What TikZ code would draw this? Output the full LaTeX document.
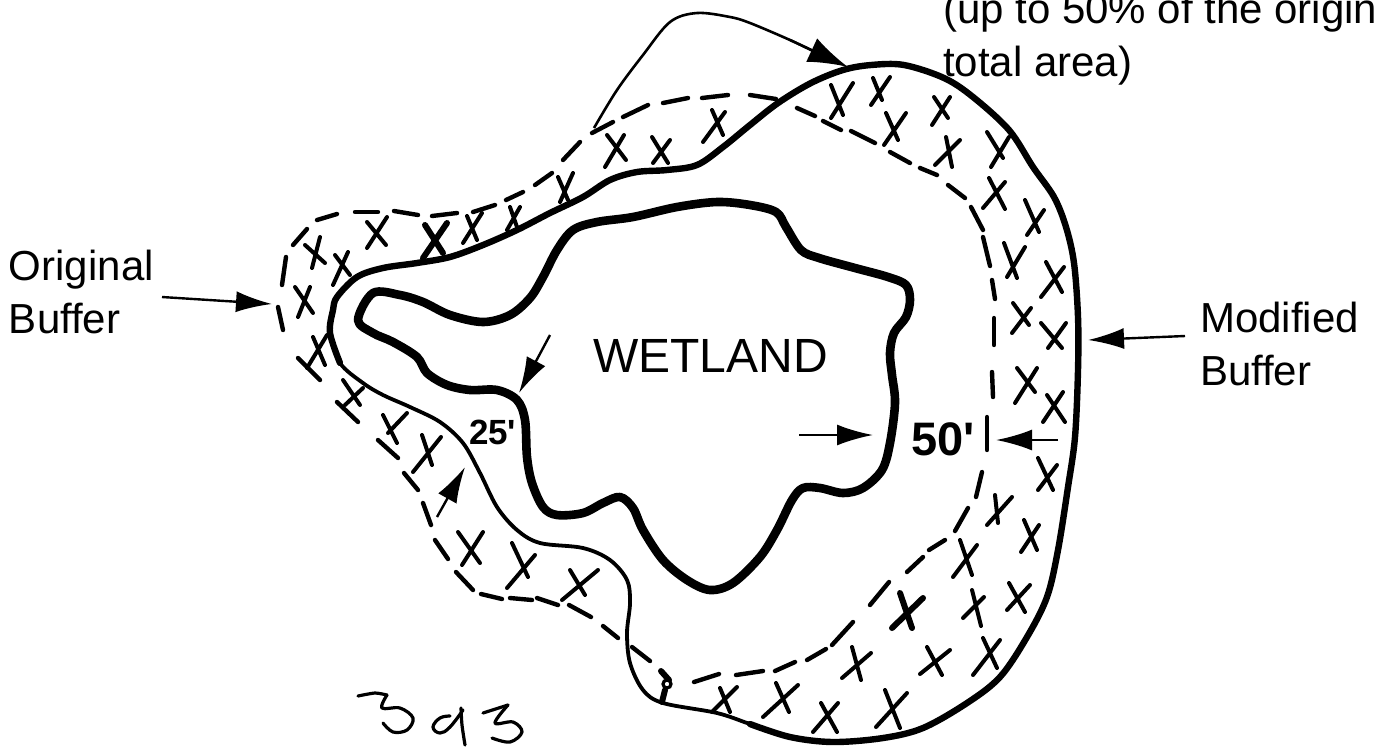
\documentclass[tikz,border=0pt]{standalone}
\usepackage{fontspec}
\setmainfont{Liberation Sans}[Ligatures=TeXOff]
\usetikzlibrary{arrows.meta}
\tikzset{
  wetlandline/.style={line width=4.3pt,line join=round},
  bufferthin/.style={line width=1.9pt,line join=round},
  bufferthick/.style={line width=3.2pt,line join=round,line cap=round},
  dashstroke/.style={line width=2.2pt,line cap=round},
  crossstroke/.style={line width=2pt,line cap=round},
  crossheavy/.style={line width=3pt,line cap=round},
  pointer/.style={line width=1.2pt,-{Latex[length=18pt,width=10.5pt]}},
  pointerbig/.style={line width=1.2pt,-{Latex[length=20pt,width=13pt]}},
  handwrite/.style={line width=1.6pt,line cap=round,line join=round},
  label/.style={anchor=base west,inner sep=0pt,outer sep=0pt,font=\fontsize{21}{21}\selectfont},
  wetlabel/.style={label,font=\fontsize{24}{24}\selectfont},
  boldsmall/.style={label,font=\fontsize{17.5}{17.5}\selectfont\bfseries},
  boldbig/.style={label,font=\fontsize{23.5}{23.5}\selectfont\bfseries},
}
\begin{document}
\begin{tikzpicture}[x=0.5pt,y=-0.5pt]
\useasboundingbox (0,0) rectangle (1385,746);
\fill[white] (0,0) rectangle (1385,746);

% wetland edge
\draw[wetlandline] plot[smooth cycle,tension=0.55] coordinates {
 (358,320) (373,293) (400,295) (423,302) (450,315) (483,322) (510,315) (530,298)
 (543,277) (557,250) (573,230) (597,222) (633,217) (677,207) (717,202) (750,205)
 (776,212) (786,227) (801,250) (819,258) (855,268) (888,277) (906,285) (910,300)
 (906,317) (894,333) (890,353) (892,375) (895,403) (890,443) (882,470) (863,488)
 (843,493) (820,488) (803,488) (792,500) (777,530) (760,557) (733,583) (710,590)
 (687,580) (663,560) (643,530) (633,508) (620,497) (603,503) (583,513) (557,515)
 (543,507) (532,483) (527,457) (525,420) (517,400) (497,390) (470,390) (447,385)
 (427,373) (417,357) (393,342) (373,333)};

% modified buffer, whole outline
\draw[bufferthin] plot[smooth cycle,tension=0.55] coordinates {
 (330,333) (333,310) (337,297) (357,277) (383,268) (417,263) (450,257) (483,245)
 (517,230) (550,213) (583,197) (610,180) (637,172) (667,170) (697,165) (723,147)
 (750,125) (778,103) (811,83) (843,70) (871,65) (904,65) (944,78) (973,97)
 (1009,130) (1033,167) (1054,197) (1066,227) (1074,263) (1078,317) (1078,370)
 (1075,437) (1068,487) (1058,550) (1047,597) (1027,637) (1000,677) (967,703)
 (923,728) (883,738) (833,742) (790,737) (750,724) (717,713) (663,703) (643,690)
 (630,663) (627,633) (630,603) (627,580) (610,560) (583,548) (540,543) (517,530)
 (497,507) (480,473) (463,443) (440,422) (410,407) (383,395) (363,383) (340,363)};
% modified buffer, heavier stretches
\draw[bufferthick] plot[smooth,tension=0.55] coordinates {
 (340,363) (330,333) (333,310) (337,297) (357,277) (383,268) (417,263) (450,257) (483,245)
 (517,230) (550,213) (583,197) (610,180) (637,172) (667,170) (697,165) (723,147)
 (750,125) (778,103) (811,83) (843,70) (871,65) (904,65) (944,78) (973,97)
 (1009,130) (1033,167) (1054,197) (1066,227) (1074,263) (1078,317) (1078,370)
 (1075,437) (1068,487) (1058,550) (1047,597) (1027,637) (1000,677) (967,703)
 (923,728) (883,738) (833,742) (790,737) (750,724)};

% original buffer, hand-drawn dashes
\foreach \a/\b/\c/\d in {
 283/330/278/307, 282/285/286/257, 293/245/307/229, 317/220/337/214, 355/212/378/212,
 394/211/418/215, 432/216/457/213, 473/212/495/205, 506/200/523/192, 535/185/552/173,
 563/160/580/142, 592/133/613/122, 623/117/648/105, 663/103/688/98, 702/98/728/95,
 750/95/776/99, 797/108/815/116, 823/121/841/130, 851/131/875/143, 890/152/910/163,
 920/168/937/175, 948/185/965/198, 971/207/983/230, 983/237/990/266, 992/280/995/299,
 994/318/994/345, 992/372/993/397, 987/417/987/450, 982/472/976/497, 968/508/955/531,
 945/540/929/550, 923/557/907/572, 889/582/870/605, 853/622/832/645, 826/649/807/660,
 795/662/775/671, 763/671/736/675, 719/674/694/682, 650/661/632/647, 618/638/603/626,
 591/617/569/605, 558/605/537/598, 532/600/510/598, 502/599/481/594, 473/590/456/572,
 448/559/435/540, 431/525/423/503, 418/490/404/473, 398/458/378/440, 358/422/337/402,
 320/380/298/358}
 \draw[dashstroke] (\a,\b) -- (\c,\d);

% crosses of the taken area
\foreach \a/\b/\c/\d/\e/\f/\g/\h in {
 305/245/325/263/320/237/312/268, 335/255/350/275/348/252/333/285,
 367/222/386/245/387/217/367/248, 295/287/313/313/310/287/298/317,
 467/216/477/240/482/213/463/243, 510/207/517/227/520/207/507/230,
 558/177/568/200/573/173/560/202, 607/135/626/160/624/135/605/167,
 652/137/668/163/670/140/653/163, 712/110/723/135/725/112/703/142,
 313/337/325/365/327/335/307/368, 343/380/360/405/363/388/345/405,
 383/415/397/443/407/413/388/433, 422/435/432/465/441/437/413/472,
 458/532/480/563/483/532/462/565, 512/543/528/577/535/555/507/588,
 570/570/585/595/598/570/562/600, 720/688/730/712/737/687/712/712,
 831/85/843/115/853/83/831/118, 873/78/882/100/890/77/871/105,
 886/113/898/140/906/113/884/145, 934/97/948/118/950/97/932/125,
 946/137/952/167/960/140/935/165, 987/132/1003/158/1009/137/991/167,
 989/178/1005/209/1005/182/983/208, 1025/200/1039/232/1044/210/1027/235,
 1004/243/1017/278/1025/247/1007/277, 1046/262/1062/292/1064/267/1041/297,
 1013/303/1029/325/1031/308/1012/333, 1041/323/1062/348/1066/323/1048/348,
 1017/368/1035/392/1037/368/1015/403, 1047/395/1065/422/1063/392/1043/422,
 1038/458/1053/490/1057/465/1038/490, 995/495/998/523/1012/497/987/525,
 1024/520/1037/550/1039/525/1021/552, 960/540/972/575/977/545/953/577,
 972/590/981/626/984/597/963/618, 1009/583/1025/612/1030/585/1007/610,
 983/638/997/668/1000/640/973/675, 927/647/942/675/950/650/920/674,
 852/647/861/680/871/653/842/678, 776/683/789/712/798/685/763/717,
 821/703/837/732/838/703/813/732, 885/690/900/728/907/693/876/727}
 \draw[crossstroke] (\a,\b) -- (\c,\d) (\e,\f) -- (\g,\h);
\draw[crossheavy] (425,225) -- (443,253) (447,223) -- (423,258);
\draw[crossheavy] (900,593) -- (912,628) (923,598) -- (892,628);
% small knot where a dash meets the outline
\draw[crossheavy] (661,671) -- (669,680);
\draw[crossheavy] (665,690) -- (662,702);
\draw[line width=1.6pt,fill=white] (667,684) circle[radius=4];

% labels
\node[label] (origa) at (9,280) {Original};
\node[label] (origb) at (9,333) {Buffer};
\node[label] (moda) at (1200,332) {Modified};
\node[label] (modb) at (1200,385) {Buffer};
\node[label] (upa) at (943,23) {(up to 50\% of the origin};
\node[label] (upb) at (943,76) {total area)};
\node[wetlabel] (wet) at (593,372) {WETLAND};
\node[boldsmall] (d25) at (469,444) {25'};
\node[boldbig] (d50) at (911,455) {50'};

% pointers
\coordinate (t1) at (162,297); \coordinate (h1) at (272,304);
\coordinate (t2) at (1185,336); \coordinate (h2) at (1088,340);
\coordinate (t3) at (550,335); \coordinate (h3) at (519,393);
\coordinate (t4) at (437,517); \coordinate (h4) at (465,467);
\coordinate (t5) at (799,435); \coordinate (h5) at (873,435);
\coordinate (t6) at (1058,440); \coordinate (h6) at (996,440);
\coordinate (t7) at (750,23); \coordinate (h7) at (848,67);
\draw[pointer] (t1) -- (h1);
\draw[pointer] (t2) -- (h2);
\draw[pointer] (t3) -- (h3);
\draw[pointer] (t4) -- (h4);
\draw[pointer] (t5) -- (h5);
\draw[pointer] (t6) -- (h6);
\draw[line width=1.3pt] plot[smooth,tension=0.55] coordinates {(594,128) (617,90) (643,55) (670,22) (697,13) (730,17) (750,23) (790,40) (815,52)};
\draw[pointerbig] (790,40) -- (h7);

% handwriting
\draw[handwrite] plot[smooth,tension=0.4] coordinates {(358,696) (375,693) (387,695)};
\draw[handwrite] plot[smooth,tension=0.6] coordinates {(387,695) (382,708) (400,708) (413,718) (407,730) (393,732) (383,723)};
\draw[handwrite] plot[smooth,tension=0.7] coordinates {(450,716) (440,718) (433,727) (440,733) (450,727) (463,710)};
\draw[handwrite] plot[smooth,tension=0.5] coordinates {(461,708) (462,725) (465,745)};
\draw[handwrite] plot[smooth,tension=0.3] coordinates {(483,713) (508,705)};
\draw[handwrite] plot[smooth,tension=0.6] coordinates {(508,705) (495,723) (513,722) (522,732) (510,742) (492,738)};
\end{tikzpicture}
\end{document}
